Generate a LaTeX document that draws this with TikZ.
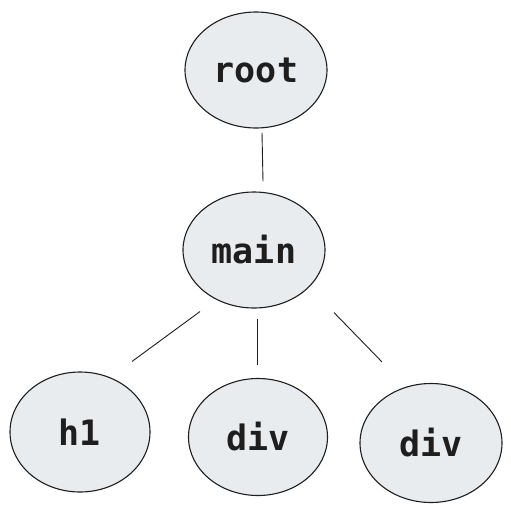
\documentclass[tikz,border=0pt]{standalone}
\usepackage{fontspec}
\setmonofont{DejaVu Sans Mono}
\usetikzlibrary{shapes.geometric}
\definecolor{nodefill}{HTML}{E9ECEF}
\definecolor{ink}{HTML}{1E1E1E}
\begin{document}
\begin{tikzpicture}[x=1pt,y=-1pt,
  tnode/.style={ellipse,draw=ink,fill=nodefill,line width=1.1pt,inner sep=0pt,
    text=ink,font=\ttfamily\bfseries\fontsize{35}{42}\selectfont},
  conn/.style={draw=ink,line width=0.9pt}]
\useasboundingbox (0,0) rectangle (511,512);
\node[tnode,minimum width=142pt,minimum height=116pt] (root) at (256,70) {root};
\node[tnode,minimum width=142pt,minimum height=116pt] (main) at (254,250) {main};
\node[tnode,minimum width=140pt,minimum height=120pt] (h1) at (80,432) {h1};
\node[tnode,minimum width=139pt,minimum height=117pt] (div1) at (258,437) {div};
\node[tnode,minimum width=142pt,minimum height=119pt] (div2) at (431,443) {div};
\draw[conn] ([shift={(6,4)}]root.south) -- ([shift={(9,-10)}]main.north);
\draw[conn] ([shift={(-54,3)}]main.south) -- ([shift={(52,-10)}]h1.north);
\draw[conn] ([shift={(3,10)}]main.south) -- ([shift={(-1,-13)}]div1.north);
\draw[conn] ([shift={(80,4)}]main.south) -- ([shift={(-49,-21)}]div2.north);
\end{tikzpicture}
\end{document}
